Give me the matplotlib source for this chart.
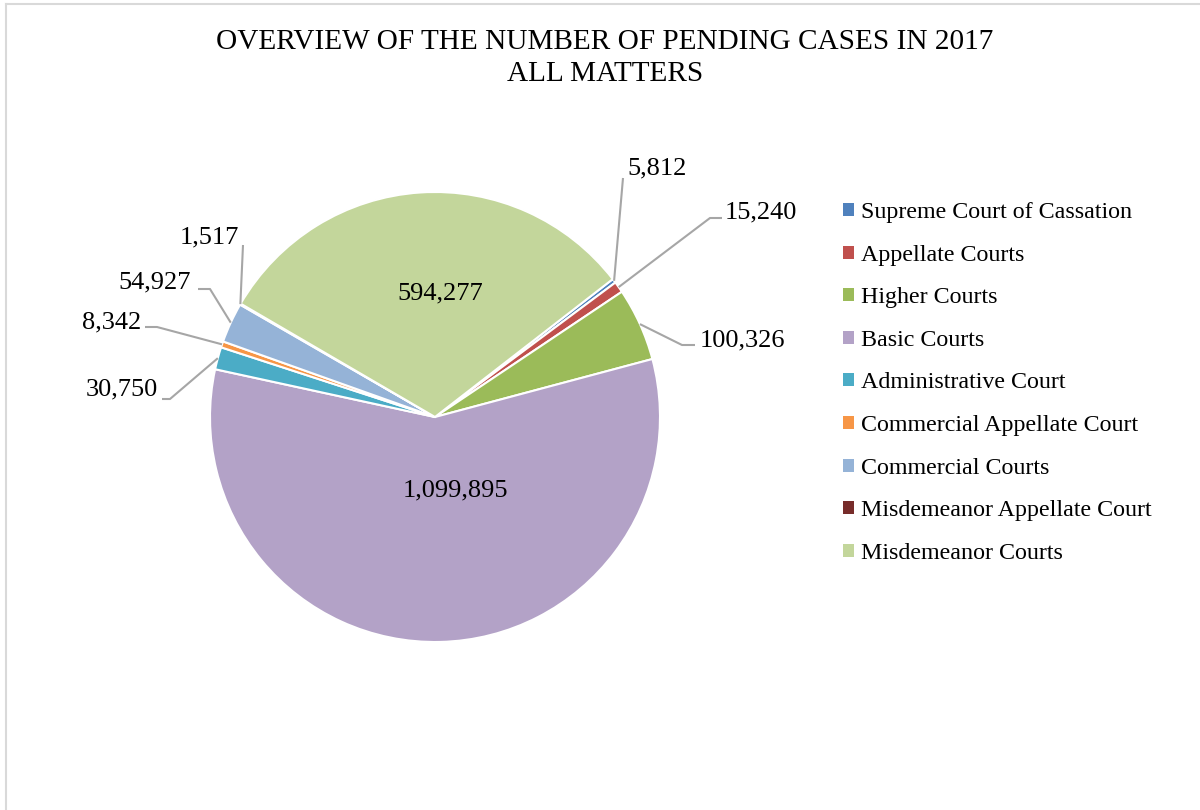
import matplotlib
matplotlib.use("Agg")
import matplotlib.pyplot as plt
import numpy as np

plt.rcParams['font.family'] = ['Liberation Serif', 'DejaVu Serif']

categories = ["Supreme Court of Cassation", "Appellate Courts", "Higher Courts",
              "Basic Courts", "Administrative Court", "Commercial Appellate Court",
              "Commercial Courts", "Misdemeanor Appellate Court", "Misdemeanor Courts"]
values = [5812, 15240, 100326, 1099895, 30750, 8342, 54927, 1517, 594277]
colors = ["#4F81BD", "#C0504D", "#9BBB59", "#B3A2C7", "#4BACC6",
          "#F79646", "#95B3D7", "#772C2A", "#C3D69B"]
title_lines = ["OVERVIEW OF THE NUMBER OF PENDING CASES IN 2017", "ALL MATTERS"]

W, H = 1200, 810
fig = plt.figure(figsize=(W / 100, H / 100), dpi=100)
ax = fig.add_axes([0, 0, 1, 1])

def Y(py):
    return H - py

cx, cy, R = 435, Y(417), 225
wedges, _ = ax.pie(values, colors=colors, startangle=37.8, counterclock=False,
                   center=(cx, cy), radius=R, frame=True,
                   wedgeprops=dict(edgecolor='white', linewidth=1.5))
ax.set_xlim(0, W)
ax.set_ylim(0, H)
ax.set_aspect('equal')
ax.axis('off')

fs = 19
# inside labels: (index, x, y)
inside = {3: (455, 490), 8: (440, 293)}
for i, (tx, ty) in inside.items():
    ax.text(tx, Y(ty), f"{values[i]:,}", ha='center', va='center', fontsize=fs, color='black')

# outside labels: index -> (elbow point, end point, text anchor x, text y, ha)
outside = {
    0: ((623, 178), (623, 178), 627, 168, 'left'),
    1: ((710, 218), (722, 218), 725, 212, 'left'),
    2: ((682, 345), (695, 345), 700, 340, 'left'),
    4: ((170, 399), (162, 399), 158, 389, 'right'),
    5: ((157, 327), (145, 327), 141, 322, 'right'),
    6: ((210, 289), (198, 289), 191, 282, 'right'),
    7: ((243, 245), (243, 245), 239, 237, 'right'),
}
for i, (elbow, end, tx, ty, ha) in outside.items():
    w = wedges[i]
    mid = np.deg2rad((w.theta1 + w.theta2) / 2)
    px = cx + R * np.cos(mid)
    py = cy + R * np.sin(mid)
    ax.plot([px, elbow[0], end[0]], [py, Y(elbow[1]), Y(end[1])],
            color='#A6A6A6', lw=1.5, solid_capstyle='butt', zorder=1)
    ax.text(tx, Y(ty), f"{values[i]:,}", ha=ha, va='center', fontsize=fs, color='black')

# title
ax.text(605, Y(42), title_lines[0], ha='center', va='center', fontsize=21.1)
ax.text(605, Y(74), title_lines[1], ha='center', va='center', fontsize=21.1)

# legend
leg = ax.legend(wedges, categories, loc='upper left', bbox_to_anchor=(843 / W, 1 - 202 / H),
                bbox_transform=fig.transFigure, frameon=False, fontsize=17.3,
                handlelength=0.46, handleheight=0.46, handletextpad=0.27,
                labelspacing=0.90, borderaxespad=0, borderpad=0)
for h in leg.legend_handles:
    h.set_edgecolor('none')

# border
ax.plot([6, 6], [Y(4), 0], color='#D9D9D9', lw=1.5)
ax.plot([6, W], [Y(4), Y(4)], color='#D9D9D9', lw=1.5)

fig.savefig("out.png", dpi=100)
